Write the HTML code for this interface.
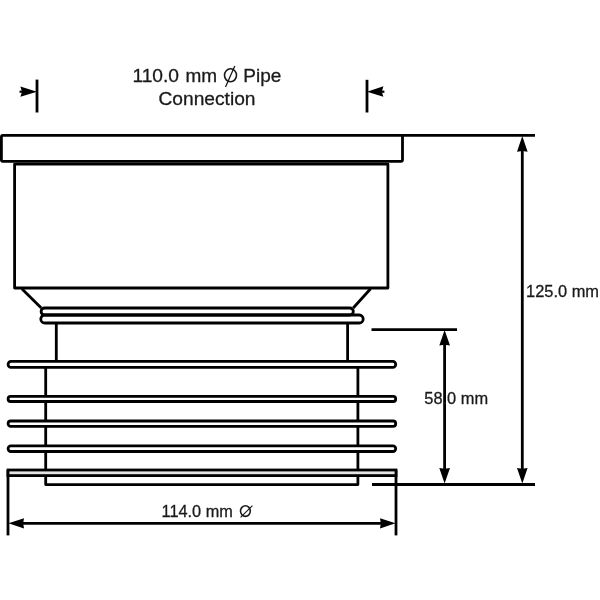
<!DOCTYPE html>
<html><head><meta charset="utf-8"><style>
html,body{margin:0;padding:0;background:#fff;width:600px;height:600px;overflow:hidden}
svg{display:block;filter:grayscale(1)}
text{font-family:"Liberation Sans",sans-serif;fill:#1a1a1a;stroke:#1a1a1a;stroke-width:0.3px}
</style></head><body>
<svg width="600" height="600" viewBox="0 0 600 600">
<g fill="none" stroke="#000" stroke-width="2.8" stroke-linejoin="round">
  <!-- flange -->
  <rect x="1.4" y="135.4" width="401.1" height="25.9" rx="1.5"/>
  <!-- body -->
  <rect x="14.6" y="164.2" width="373.3" height="123.8"/>
  <!-- taper -->
  <line x1="21.8" y1="288.8" x2="41.3" y2="308"/>
  <line x1="370.6" y1="288.8" x2="353.2" y2="308"/>
  <!-- rings -->
  <rect x="41.1" y="308" width="312.2" height="7" rx="3.5"/>
  <rect x="40.8" y="315" width="322.4" height="8" rx="4"/>
  <!-- upper pipe -->
  <line x1="56.3" y1="323" x2="56.3" y2="362"/>
  <line x1="347.6" y1="323" x2="347.6" y2="362"/>
  <!-- lower body -->
  <path d="M45.7 366 V484.6 H357.9 V366"/>
  <!-- extension lines -->
  <line x1="402" y1="135.4" x2="535" y2="135.4"/>
  <line x1="371.5" y1="329.6" x2="457" y2="329.6"/>
  <line x1="372" y1="484.5" x2="535" y2="484.5"/>
  <line x1="8" y1="470" x2="8" y2="535.4"/>
  <line x1="396" y1="470" x2="396" y2="535.4"/>
  <!-- dimension lines -->
  <line x1="444.6" y1="340" x2="444.6" y2="474"/>
  <line x1="522.3" y1="146" x2="522.3" y2="474"/>
  <line x1="18" y1="523.3" x2="386" y2="523.3"/>
  <!-- top markers -->
  <line x1="37" y1="79.6" x2="37" y2="112.5"/>
  <line x1="367" y1="79.8" x2="367" y2="112.5"/>
  <line x1="19.5" y1="91.7" x2="28" y2="91.7" stroke-width="2.2"/>
  <line x1="376" y1="91.7" x2="384.4" y2="91.7" stroke-width="2.2"/>
</g>
<g fill="#fff" stroke="#000" stroke-width="2.8">
  <!-- fins -->
  <rect x="8.1" y="361.4" width="387.6" height="5.9" rx="2.9"/>
  <rect x="8.1" y="396.4" width="387.6" height="5.1" rx="2.5"/>
  <rect x="8.1" y="421.0" width="387.6" height="5.4" rx="2.7"/>
  <rect x="8.1" y="445.9" width="387.6" height="5.6" rx="2.8"/>
  <rect x="8" y="470.0" width="388" height="5.6" fill="#e4e4e4"/>
</g>
<g fill="#000" stroke="none">
  <!-- arrows -->
  <path d="M444.6 330 L450 345.6 L444.6 344.8 L439.3 345.6 Z"/>
  <path d="M444.6 483.5 L450 468 L444.6 468.8 L439.3 468 Z"/>
  <path d="M522.3 136 L527.6 151.8 L522.3 151 L517 151.8 Z"/>
  <path d="M522.3 483.5 L527.6 468 L522.3 468.8 L517 468 Z"/>
  <path d="M8.5 523.3 L24 518.2 L23.2 523.3 L24 528.6 Z"/>
  <path d="M395.5 523.3 L380 518.2 L380.8 523.3 L380 528.6 Z"/>
  <path d="M37 91.7 L20.4 86.5 L22 91.7 L20.4 96.8 Z"/>
  <path d="M367 91.7 L383.4 86.3 L381.8 91.7 L383.4 96.8 Z"/>
</g>
<!-- top label -->
<text x="132.4" y="82.3" font-size="19.2">110.0</text><text x="185.5" y="82.3" font-size="19">mm</text>
<g fill="none" stroke="#1a1a1a">
  <ellipse cx="230.5" cy="75.3" rx="6" ry="6.5" stroke-width="1.6"/>
  <line x1="225.5" y1="86.9" x2="234.8" y2="66" stroke-width="1.3"/>
</g>
<text x="243.3" y="82.3" font-size="19">Pipe</text>
<text x="207" y="104.6" font-size="19.2" text-anchor="middle">Connection</text>
<text x="526.1" y="296.6" font-size="16.4">125.0 mm</text>
<text x="424.3" y="404.4" font-size="16.4">58.0 mm</text>
<text x="161.6" y="516.8" font-size="16.3">114.0 mm</text>
<g fill="none" stroke="#1a1a1a">
  <ellipse cx="245.4" cy="511.1" rx="4.9" ry="5.3" stroke-width="1.6"/>
  <line x1="240.6" y1="517.4" x2="252.4" y2="505.6" stroke-width="1.1"/>
</g>
</svg>
</body></html>
